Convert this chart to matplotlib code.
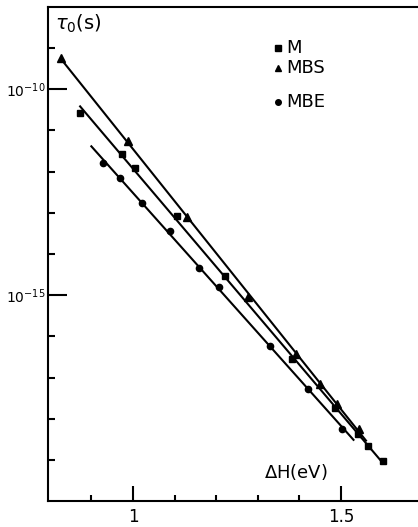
import numpy as np
import matplotlib
matplotlib.use('Agg')
import matplotlib.pyplot as plt

# Delta H (eV) and log10 tau0 (s)
mbs_dh = [0.827, 0.988, 1.130, 1.276, 1.392, 1.450, 1.490, 1.543]
mbs_lt = [-9.25, -11.26, -13.09, -15.05, -16.43, -17.15, -17.63, -18.24]
m_dh = [0.873, 0.974, 1.005, 1.106, 1.221, 1.382, 1.486, 1.541, 1.565, 1.601]
m_lt = [-10.58, -11.57, -11.91, -13.07, -14.54, -16.55, -17.75, -18.38, -18.67, -19.03]
mbe_dh = [0.928, 0.969, 1.022, 1.089, 1.159, 1.207, 1.329, 1.421, 1.502]
mbe_lt = [-11.79, -12.15, -12.75, -13.45, -14.35, -14.81, -16.23, -17.27, -18.24]

# extent of the fitted straight lines
mbs_fit = [0.827, 1.56]
m_fit = [0.873, 1.601]
mbe_fit = [0.90, 1.53]

fig = plt.figure(figsize=(4.18, 5.27), dpi=100)
ax = fig.add_axes([0.115, 0.049, 0.885, 0.938])

series = [(mbs_dh, mbs_lt, mbs_fit, '^', 6),
          (m_dh, m_lt, m_fit, 's', 5),
          (mbe_dh, mbe_lt, mbe_fit, 'o', 4.5)]
for dh, lt, fr, mk, ms in series:
    p = np.polyfit(dh, lt, 1)
    xx = np.array(fr)
    ax.plot(xx, 10 ** np.polyval(p, xx), 'k-', lw=1.5)
    ax.plot(dh, 10 ** np.array(lt), mk, color='k', ms=ms, ls='none')

ax.set_yscale('log')
ax.set_xlim(0.796, 1.685)
ax.set_ylim(1e-20, 1e-8)

ax.set_yticks([1e-10, 1e-15])
ax.set_yticklabels([r'$10^{-10}$', r'$10^{-15}$'], fontsize=10)
ax.set_yticks([10.0 ** k for k in range(-19, -8) if k not in (-10, -15)], minor=True)
ax.yaxis.set_minor_formatter(plt.NullFormatter())
ax.set_xticks([1, 1.5])
ax.set_xticklabels(['1', '1.5'], fontsize=12)
ax.set_xticks([0.9, 1.1, 1.2, 1.3, 1.4], minor=True)

ax.tick_params(axis='y', which='major', direction='in', length=14, width=1.5, pad=2)
ax.tick_params(axis='y', which='minor', direction='in', length=5, width=1.5)
ax.tick_params(axis='x', which='major', direction='in', length=11, width=1.5, pad=5)
ax.tick_params(axis='x', which='minor', direction='in', length=4, width=1.5)

ax.spines['right'].set_visible(False)
for s in ['left', 'top', 'bottom']:
    ax.spines[s].set_linewidth(1.5)

ax.text(0.02, 0.965, r'$\tau_0$(s)', transform=ax.transAxes, fontsize=14, va='center', ha='left')
ax.text(0.585, 0.06, r'$\Delta$H(eV)', transform=ax.transAxes, fontsize=13, va='center', ha='left')

# legend drawn by hand
leg = [('s', 'M', 0.917, 4), ('^', 'MBS', 0.876, 5), ('o', 'MBE', 0.807, 4)]
for mk, lab, yy, ms in leg:
    ax.plot([0.622], [yy], mk, color='k', ms=ms, transform=ax.transAxes, clip_on=False)
    ax.text(0.643, yy, lab, transform=ax.transAxes, fontsize=13, va='center', ha='left')

fig.savefig('out.png', dpi=100)
